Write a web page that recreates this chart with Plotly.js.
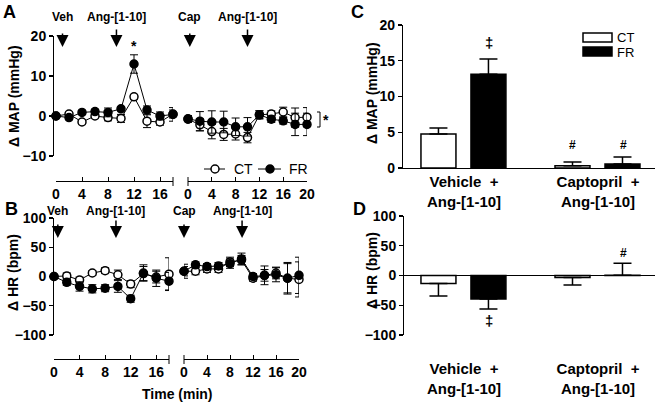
<!DOCTYPE html>
<html><head><meta charset="utf-8">
<script src="https://cdn.plot.ly/plotly-3.0.1.min.js"></script>
<style>html,body{margin:0;padding:0;background:#fff}</style>
</head><body><div id="chart" style="width:660px;height:406px"></div>
<script>
// ---------- data ----------
const timeBefore = [0,2,4,6,8,10,12,14,16,18];
const timeAfter  = [0,2,4,6,8,10,12,14,16,18,20];

// Panel A: delta MAP (mmHg)
const mapCtVeh    = [0,0.5,-1.5,0,-0.4,-0.6,4.8,-1.3,-1.5,0.5];
const mapCtVehErr = [0.3,0.5,0.5,0.5,0.8,1.0,0.6,1.6,0.8,1.0];
const mapFrVeh    = [0,-0.4,0.9,1.1,0.9,1.8,13.0,1.5,0,0.4];
const mapFrVehErr = [0.3,0.5,0.5,0.6,1.1,0.5,2.3,1.0,1.0,1.7];
const mapCtCap    = [-0.8,-2.2,-3.9,-4.6,-4.5,-5.4,0.3,0.5,1.0,-0.4,-0.3];
const mapCtCapErr = [0.8,1.5,1.8,1.5,1.5,1.3,1.0,0.8,1.2,2.4,2.4];
const mapFrCap    = [-0.7,-1.3,-1.5,-1.5,-2.7,-2.7,0.3,-0.8,-1.2,-2.1,-2.1];
const mapFrCapErr = [0.8,2.4,2.8,2.7,2.2,2.3,1.0,0.8,0.8,2.8,2.8];

// Panel B: delta HR (bpm)
const hrCtVeh    = [0,1,-6,6,10,3,-13,5,-1,4];
const hrCtVehErr = [3,5,5,4,5,8,6,12,10,28];
const hrFrVeh    = [0,-10,-17,-21,-20,-17,-38,6,-3,-8];
const hrFrVehErr = [3,5,8,7,6,10,6,14,14,15];
const hrCtCap    = [9,9,13,13,25,28,-3,2,6,-3,-5];
const hrCtCapErr = [8,6,6,6,8,8,5,10,10,25,30];
const hrFrCap    = [9,20,17,18,22,30,0,2,3,-3,2];
const hrFrCapErr = [12,5,5,6,8,10,5,16,12,27,31];

// Panels C & D: summary bars
const groups   = ['Vehicle\u00a0\u00a0+<br>Ang-[1-10]', 'Captopril\u00a0\u00a0+<br>Ang-[1-10]'];
const mapCtBar = [4.75, 0.33];
const mapCtBarErr = [0.85, 0.5];
const mapFrBar = [13.1, 0.55];
const mapFrBarErr = [2.15, 1.0];
const hrCtBar  = [-13.5, -3.5];
const hrCtBarErr = [21, 12.5];
const hrFrBar  = [-39.5, 0.5];
const hrFrBarErr = [17, 20];

// events (min)
const eventLabels = ['Veh','Ang-[1-10]','Cap','Ang-[1-10]'];
const eventTimesA = [1, 9.3, 0.3, 10];
const eventTimesB = [0.6, 9.7, 0, 10.1];

// ---------- helpers ----------
const W = 660, H = 406;
const fx = p => p / W;
const fy = p => 1 - p / H;
const FONT = 'Liberation Sans, Arial, Helvetica, sans-serif';
const tf = (size, weight) => ({family: FONT, size: size, color: 'black', weight: weight || 'bold'});

function xSeg(d0, d1, range, tickvals, posPx) {
  return {domain: [fx(d0), fx(d1)], range: range, anchor: 'free', position: fy(posPx),
    showline: true, linecolor: 'black', linewidth: 1, ticks: 'inside', ticklen: 4, tickwidth: 1,
    tickcolor: 'black', tickmode: 'array', tickvals: tickvals, tickfont: tf(14),
    showgrid: false, zeroline: false, fixedrange: true};
}
function yAx(topPx, botPx, range, tickvals, posPx) {
  return {domain: [fy(botPx), fy(topPx)], range: range, anchor: 'free', position: fx(posPx),
    showline: true, linecolor: 'black', linewidth: 1.2, ticks: 'outside', ticklen: 4, tickwidth: 1.2,
    tickcolor: 'black', tickmode: 'array', tickvals: tickvals, tickfont: tf(14),
    showgrid: false, zeroline: false, fixedrange: true};
}
function lineTrace(x, y, err, xa, ya, filled) {
  return {type: 'scatter', mode: 'lines+markers', x: x, y: y, xaxis: xa, yaxis: ya, cliponaxis: false,
    line: {color: 'black', width: 1},
    marker: {symbol: 'circle', size: 8, color: filled ? 'black' : 'white', line: {color: 'black', width: 1.5}},
    error_y: {type: 'data', array: err, visible: true, color: 'black', thickness: 1, width: 4},
    hoverinfo: 'skip', showlegend: false};
}
function barTrace(y, err, xa, ya, filled, offset) {
  const plus = y.map((v, i) => v >= 0 ? err[i] : 0);
  const minus = y.map((v, i) => v < 0 ? err[i] : 0);
  return {type: 'bar', x: groups, y: y, xaxis: xa, yaxis: ya, width: 0.261, offset: offset,
    marker: {color: filled ? 'black' : 'white', line: {color: 'black', width: 1.5}},
    error_y: {type: 'data', symmetric: false, array: plus, arrayminus: minus, visible: true,
      color: 'black', thickness: 1.5, width: 9},
    hoverinfo: 'skip', showlegend: false};
}

const data = [
  lineTrace(timeBefore, mapCtVeh, mapCtVehErr, 'x', 'y', false),
  lineTrace(timeBefore, mapFrVeh, mapFrVehErr, 'x', 'y', true),
  lineTrace(timeAfter, mapCtCap, mapCtCapErr, 'x2', 'y', false),
  lineTrace(timeAfter, mapFrCap, mapFrCapErr, 'x2', 'y', true),
  lineTrace(timeBefore, hrCtVeh, hrCtVehErr, 'x3', 'y2', false),
  lineTrace(timeBefore, hrFrVeh, hrFrVehErr, 'x3', 'y2', true),
  lineTrace(timeAfter, hrCtCap, hrCtCapErr, 'x4', 'y2', false),
  lineTrace(timeAfter, hrFrCap, hrFrCapErr, 'x4', 'y2', true),
  barTrace(mapCtBar, mapCtBarErr, 'x5', 'y3', false, -0.321),
  barTrace(mapFrBar, mapFrBarErr, 'x5', 'y3', true, 0.052),
  barTrace(hrCtBar, hrCtBarErr, 'x6', 'y4', false, -0.321),
  barTrace(hrFrBar, hrFrBarErr, 'x6', 'y4', true, 0.052)
];

const catRange = [-0.455, 1.425];
const layout = {
  width: W, height: H, margin: {l: 0, r: 0, t: 0, b: 0},
  paper_bgcolor: 'white', plot_bgcolor: 'rgba(0,0,0,0)',
  font: {family: FONT, color: 'black', size: 14},
  showlegend: false, barmode: 'overlay',
  xaxis:  xSeg(56, 173, [0, 18], [0,4,8,12,16], 181),
  xaxis2: xSeg(188, 307, [0, 20], [0,4,8,12,16,20], 181),
  xaxis3: xSeg(54, 169, [0, 18], [0,4,8,12,16], 359),
  xaxis4: xSeg(184, 299, [0, 20], [0,4,8,12,16,20], 359),
  yaxis:  yAx(36, 156, [-10, 20], [-10,0,10,20], 53),
  yaxis2: yAx(218, 335, [-100, 100], [-100,-50,0,50,100], 53),
  xaxis5: {domain: [fx(403), fx(655)], range: catRange, type: 'category', anchor: 'y3',
    showline: true, linecolor: 'black', linewidth: 1.2, ticks: '', tickfont: tf(15),
    showgrid: false, zeroline: false, fixedrange: true},
  yaxis3: Object.assign(yAx(25, 168, [0, 20], [0,5,10,15,20], 403), {anchor: 'x5'}),
  xaxis6: {domain: [fx(403), fx(655)], range: catRange, type: 'category', anchor: 'free', position: fy(358),
    showline: false, ticks: '', tickfont: tf(15), showgrid: false, zeroline: false, fixedrange: true},
  yaxis4: Object.assign(yAx(216, 335, [-100, 100], [-100,-50,0,50,100], 403),
    {zeroline: true, zerolinecolor: 'black', zerolinewidth: 1.2}),
  annotations: [],
  shapes: []
};

const ann = layout.annotations, shp = layout.shapes;
function txt(x, y, text, size, opts) {
  ann.push(Object.assign({xref: 'paper', yref: 'paper', x: fx(x), y: fy(y), text: text, showarrow: false,
    xanchor: 'center', yanchor: 'middle', font: tf(size)}, opts || {}));
}
// panel letters
txt(9, 12, 'A', 18); txt(11, 209, 'B', 18); txt(357, 12, 'C', 18); txt(359, 209, 'D', 18);
// axis titles
txt(14, 96, '\u0394 MAP (mmHg)', 14, {textangle: -90});
txt(13, 273, '\u0394 HR (bpm)', 14, {textangle: -90});
txt(372, 93, '\u0394 MAP (mmHg)', 14, {textangle: -90});
txt(372, 271, '\u0394 HR (bpm)', 14, {textangle: -90});
txt(177, 394, 'Time (min)', 14);

// event labels and arrows
const axA = ['x','x','x2','x2'], axB = ['x3','x3','x4','x4'];
eventLabels.forEach((lab, i) => {
  const len = lab === 'Ang-[1-10]' ? -19 : -15;
  [[eventTimesA[i], axA[i], 17, 47], [eventTimesB[i], axB[i], 211, 238]].forEach(e => {
    ann.push({xref: e[1], yref: 'paper', x: e[0], y: fy(e[2]), text: lab, showarrow: false,
      xanchor: 'center', yanchor: 'middle', font: tf(12)});
    ann.push({xref: e[1], yref: 'paper', x: e[0], y: fy(e[3]), text: '', showarrow: true,
      ax: 0, ay: len, arrowhead: 2, arrowsize: 1.6, arrowwidth: 1.5, arrowcolor: 'black'});
  });
});

// significance marks
ann.push({xref: 'x', yref: 'y', x: 12, y: 17.4, text: '*', showarrow: false, font: tf(14)});
txt(326, 120, '*', 14);
shp.push({type: 'path', xref: 'paper', yref: 'paper',
  path: `M ${fx(317)} ${fy(112)} L ${fx(320)} ${fy(112)} L ${fx(320)} ${fy(127)} L ${fx(317)} ${fy(127)}`,
  line: {color: 'black', width: 1}});
ann.push({xref: 'x5', yref: 'y3', x: 0.19, y: 17.6, text: '\u2021', showarrow: false, font: tf(15)});
ann.push({xref: 'x5', yref: 'y3', x: 0.81, y: 3.2, text: '#', showarrow: false, font: tf(12)});
ann.push({xref: 'x5', yref: 'y3', x: 1.19, y: 3.2, text: '#', showarrow: false, font: tf(12)});
ann.push({xref: 'x6', yref: 'y4', x: 0.19, y: -76, text: '\u2021', showarrow: false, font: tf(15)});
ann.push({xref: 'x6', yref: 'y4', x: 1.19, y: 37, text: '#', showarrow: false, font: tf(12)});

// axis break end ticks
[[173, 177, 186], [188, 177, 186], [169, 355, 364], [184, 355, 364]].forEach(t => {
  shp.push({type: 'line', xref: 'paper', yref: 'paper', x0: fx(t[0]), x1: fx(t[0]), y0: fy(t[1]), y1: fy(t[2]),
    line: {color: 'black', width: 1}});
});

// legend panel A
[[204, 225, 215, 'white', 243, 'CT'], [258, 281, 270, 'black', 298, 'FR']].forEach(l => {
  shp.push({type: 'line', xref: 'paper', yref: 'paper', x0: fx(l[0]), x1: fx(l[1]), y0: fy(169), y1: fy(169),
    line: {color: 'black', width: 1}});
  shp.push({type: 'circle', xref: 'paper', yref: 'paper', x0: fx(l[2] - 4), x1: fx(l[2] + 4), y0: fy(165), y1: fy(173),
    fillcolor: l[3], line: {color: 'black', width: 1.5}});
  txt(l[4], 169, l[5], 14, {font: tf(14, 'normal')});
});
// legend panel C
[[33, 42, 'white', 37.5, 'CT'], [47, 56, 'black', 52, 'FR']].forEach(l => {
  shp.push({type: 'rect', xref: 'paper', yref: 'paper', x0: fx(583), x1: fx(612), y0: fy(l[1]), y1: fy(l[0]),
    fillcolor: l[2], line: {color: 'black', width: 1.5}});
  txt(615, l[3], l[4], 13, {xanchor: 'left', font: tf(13, 'normal')});
});

Plotly.newPlot('chart', data, layout, {staticPlot: true, displayModeBar: false});
</script></body></html>
